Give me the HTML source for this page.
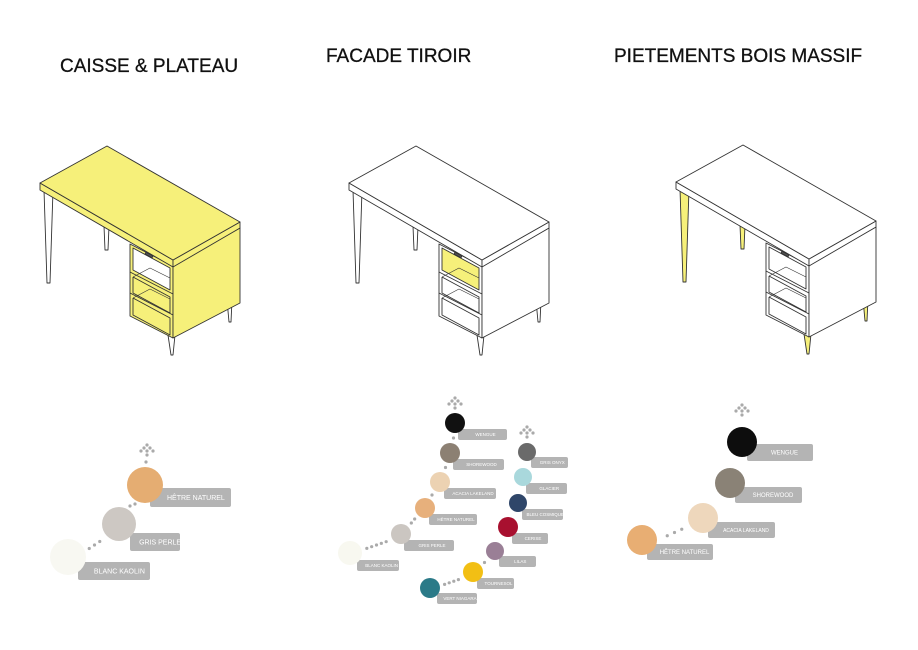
<!DOCTYPE html>
<html><head><meta charset="utf-8"><style>
html,body{margin:0;padding:0;background:#fff}
svg{display:block}
text{font-family:"Liberation Sans",sans-serif}
</style></head><body>
<svg id="s" width="918" height="650" viewBox="0 0 918 650" xmlns="http://www.w3.org/2000/svg">
<rect width="918" height="650" fill="#fff"/>
<text x="60" y="72" font-size="19" fill="#111" stroke="#111" stroke-width="0.3">CAISSE &amp; PLATEAU</text>
<text x="326" y="62" font-size="19" fill="#111" stroke="#111" stroke-width="0.3">FACADE TIROIR</text>
<text x="614" y="62" font-size="19" fill="#111" stroke="#111" stroke-width="0.3">PIETEMENTS BOIS MASSIF</text>
<g id="desks"></g>
<g id="sw"></g>
</svg>
<script>
var Y="#f6f07a",W="#fff",S="#333";
function desk(dx,dy,top,drawer,legs){
 var g='<g transform="translate('+dx+','+dy+')" stroke="'+S+'" stroke-width="0.9" stroke-linejoin="round">';
 g+='<polygon points="104,226 109,226 108,250 105,250" fill="'+legs+'"/>';
 g+='<polygon points="44,190 53,190 50,283 47,283" fill="'+legs+'"/>';
 g+='<polygon points="227,300 232,300 231,322 229,322" fill="'+legs+'"/>';
 g+='<polygon points="168,335 175,335 173,355 171,355" fill="'+legs+'"/>';
 g+='<polygon points="130,244 173,266 173,338 130,316" fill="'+top+'"/>';
 g+='<polygon points="173,266 240,228 240,303 173,338" fill="'+top+'"/>';
 g+='<polygon points="133,248 170,268 170,290 133,270" fill="'+drawer+'"/>';
 g+='<polyline points="130,272 173,294" fill="none"/>';
 g+='<polyline points="133,277 170,297 170,313 133,293 133,277" fill="none"/>';
 g+='<polyline points="130,293 173,315" fill="none"/>';
 g+='<polyline points="133,298 170,318 170,335 133,315 133,298" fill="none"/>';
 g+='<polyline points="133,277 150,268 170,278" fill="none" stroke-width="0.6"/>';
 g+='<polyline points="133,298 150,289 170,299" fill="none" stroke-width="0.6"/>';
 g+='<rect x="145" y="254" width="8" height="2" fill="#555" transform="rotate(27 149 255)"/>';
 g+='<polygon points="40,183 173,260 173,267 40,190" fill="'+top+'"/>';
 g+='<polygon points="173,260 240,222 240,228 173,267" fill="'+top+'"/>';
 g+='<polygon points="40,183 107,146 240,222 173,260" fill="'+top+'"/>';
 return g+'</g>';
}
var d=desk(0,0,Y,W,W)+desk(309,0,W,Y,W)+desk(636,-1,W,W,Y);
document.getElementById('desks').innerHTML=d;
var sw='';
function dots(x1,y1,x2,y2,n){for(var i=1;i<n;i++){sw+='<circle cx="'+(x1+(x2-x1)*i/n)+'" cy="'+(y1+(y2-y1)*i/n)+'" r="1.6" fill="#aaa"/>';}}
function arrow(x,y){[[0,0],[-3,3],[3,3],[-6,6],[0,6],[6,6],[0,10]].forEach(function(p){sw+='<circle cx="'+(x+p[0])+'" cy="'+(y+p[1])+'" r="1.6" fill="#aaa"/>';});}
function item(cx,cy,r,col,bx,by,bw,bh,label,fs){
 sw+='<rect x="'+bx+'" y="'+by+'" width="'+bw+'" height="'+bh+'" rx="2" fill="#b4b4b4"/>';
 sw+='<text x="'+(bx+bw/2+(r*0.3))+'" y="'+(by+bh/2+fs*0.35)+'" font-size="'+fs+'" fill="#fff" text-anchor="middle">'+label+'</text>';
 sw+='<circle cx="'+cx+'" cy="'+cy+'" r="'+r+'" fill="'+col+'"/>';
}
arrow(147,445);dots(147,457,145,467,2);
item(145,485,18,"#e5ad72",150,488,81,19,"HÊTRE NATUREL",7);
dots(140,502,125,508,3);
item(119,524,17,"#cdc8c3",130,533,50,18,"GRIS PERLE",7);
dots(105,538,84,552,4);
item(68,557,18,"#f8f8f2",78,562,72,18,"BLANC KAOLIN",7);
arrow(455,398);dots(455,408,455,413,1);
item(455,423,10,"#111",458,429,49,11,"WENGUE",4.5);
dots(455,433,452,443,2);
item(450,453,10,"#8c8073",453,459,51,11,"SHOREWOOD",4.5);
dots(448,463,443,472,2);
item(440,482,10,"#ecd2b2",444,488,52,11,"ACACIA LAKELAND",4.5);
dots(436,492,428,498,2);
item(425,508,10,"#e7b07c",429,514,48,11,"HÊTRE NATUREL",4.5);
dots(418,515,408,527,3);
item(401,534,10,"#cbc6c1",404,540,50,11,"GRIS PERLE",4.5);
dots(391,540,362,550,6);
item(350,553,12,"#f8f8f0",357,560,42,11,"BLANC KAOLIN",4.5);
arrow(527,427);dots(527,437,527,442,1);
item(527,452,9,"#6a6a6a",531,457,37,11,"GRIS ONYX",4.5);
dots(526,461,524,468,1);
item(523,477,9,"#a9d8dc",526,483,41,11,"GLACIER",4.5);
dots(522,486,520,494,1);
item(518,503,9,"#2f4669",522,509,41,11,"BLEU COSMIQUE",4.5);
dots(516,512,511,518,1);
item(508,527,10,"#a8102f",512,533,36,11,"CERISE",4.5);
dots(505,536,499,542,1);
item(495,551,9,"#9a7f96",499,556,37,11,"LILAS",4.5);
dots(490,559,479,566,2);
item(473,572,10,"#f2bf14",477,578,37,11,"TOURNESOL",4.5);
dots(463,578,440,586,5);
item(430,588,10,"#2b7a88",437,593,40,11,"VERT NIAGARA",4.5);
arrow(742,405);dots(742,416,742,423,1);
item(742,442,15,"#0d0d0d",747,444,66,17,"WENGUE",6);
dots(740,458,736,467,1);
item(730,483,15,"#8a8276",735,487,67,16,"SHOREWOOD",6);
dots(722,497,720,503,1);
item(703,518,15,"#eed7bc",708,522,67,16,"ACACIA LAKELAND",5);
dots(689,526,660,539,4);
item(642,540,15,"#e8ae73",647,544,66,16,"HÊTRE NATUREL",6);
document.getElementById('sw').innerHTML=sw;
</script>
</body></html>
